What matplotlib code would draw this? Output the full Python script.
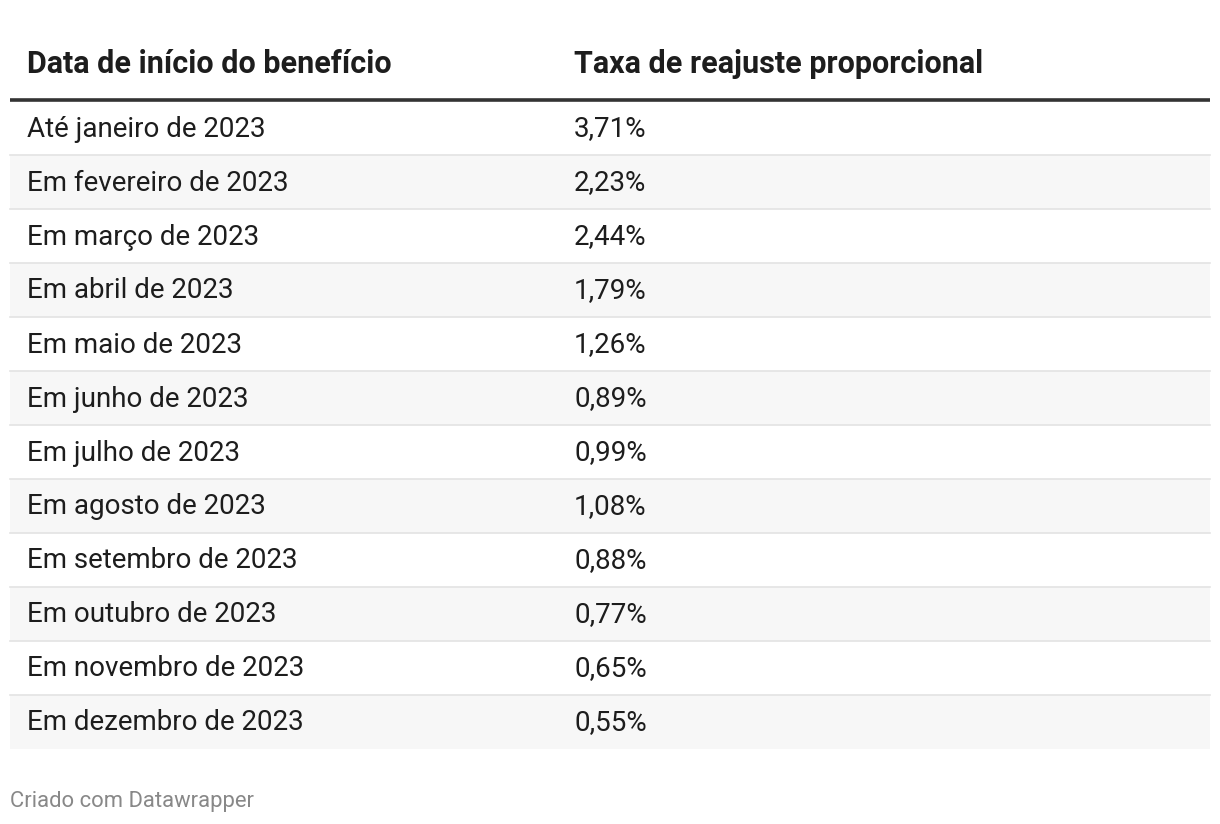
import matplotlib.pyplot as plt

plt.rcParams['font.family'] = ['Roboto', 'DejaVu Sans']

header = ["Data de início do benefício", "Taxa de reajuste proporcional"]
periods = ["Até janeiro de 2023", "Em fevereiro de 2023", "Em março de 2023",
           "Em abril de 2023", "Em maio de 2023", "Em junho de 2023",
           "Em julho de 2023", "Em agosto de 2023", "Em setembro de 2023",
           "Em outubro de 2023", "Em novembro de 2023", "Em dezembro de 2023"]
rates = ["3,71%", "2,23%", "2,44%", "1,79%", "1,26%", "0,89%",
         "0,99%", "1,08%", "0,88%", "0,77%", "0,65%", "0,55%"]
footer = "Criado com Datawrapper"

W, H = 1220, 824
fig = plt.figure(figsize=(W / 100, H / 100), dpi=100)
ax = fig.add_axes([0, 0, 1, 1])
ax.set_xlim(0, W)
ax.set_ylim(H, 0)
ax.axis("off")

left, right = 10, 1210
col_x = [27, 574]
top = 101
row_h = 54

ax.text(col_x[0], 64, header[0], fontsize=22, fontweight="bold", color="#1d1d1d", va="center")
ax.text(col_x[1], 64, header[1], fontsize=22, fontweight="bold", color="#1d1d1d", va="center")
ax.plot([left, right], [99.5, 99.5], color="#333333", lw=2.6, solid_capstyle="butt")

for i, (p, r) in enumerate(zip(periods, rates)):
    y0 = top + i * row_h
    if i % 2 == 1:
        ax.fill_between([left, right], y0, y0 + row_h, color="#f7f7f7", lw=0)
    if i < len(periods) - 1:
        ax.plot([left, right], [y0 + row_h, y0 + row_h], color="#e3e3e3", lw=1.2)
    yc = y0 + row_h / 2 + 1
    ax.text(col_x[0], yc, p, fontsize=20, color="#1d1d1d", va="center")
    ax.text(col_x[1], yc, r, fontsize=20, color="#1d1d1d", va="center")

ax.text(left, 801, footer, fontsize=15.8, color="#888888", va="center")

fig.savefig("out.png", dpi=100)
